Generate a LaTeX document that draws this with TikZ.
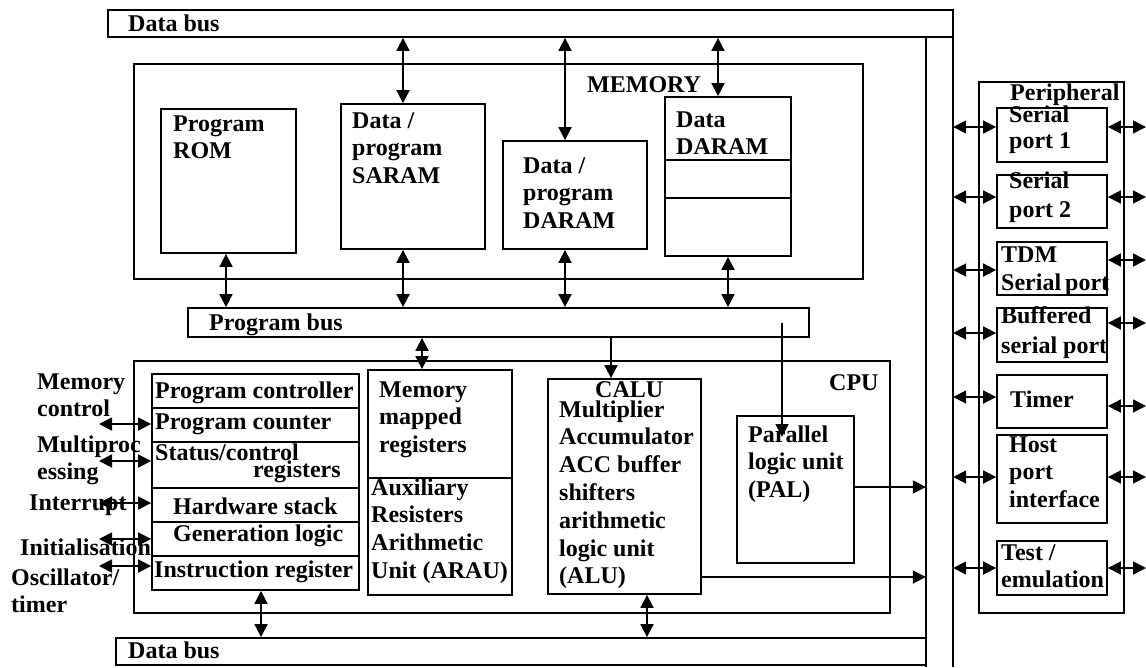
\documentclass[tikz,border=0pt]{standalone}
\usepackage{fontspec}
\setmainfont{Liberation Serif}
\usetikzlibrary{arrows.meta,fit}
\tikzset{
  box/.style={draw, line width=1.8pt, inner sep=0pt},
  rule/.style={line width=1.8pt},
  % multi-line labels are placed by the baseline of their last line
  lbl/.style={anchor=base west, inner sep=0pt, align=left,
    font=\fontsize{24}{27.8}\selectfont\bfseries},
  tip/.tip={Triangle[length=13pt,width=13pt]},
  dbl/.style={line width=1.8pt, tip-tip},
  one/.style={line width=1.8pt, -tip},
}
\begin{document}
\begin{tikzpicture}[x=1pt,y=-1pt]
\fill[white] (0,0) rectangle (1146,667);
\useasboundingbox (0,0) rectangle (1146,667);

% ---------- data bus (top bar, right riser, bottom bar) ----------
\node[box, fit={(108,10) (953,37)}] (dtop) {};
\node[box, fit={(116,638) (926,665)}] (dbot) {};
\node[inner sep=0pt, fit={(926,37) (953,667)}] (vbus) {};
\draw[rule] (vbus.north west) -- (vbus.south west)
            (vbus.north east) -- (vbus.south east);
\node[lbl] (ldtop) at (128,31) {Data bus};
\node[lbl] (ldbot) at (128,658) {Data bus};

% ---------- memory ----------
\node[box, fit={(134,64) (863,279)}] (mem) {};
\node[lbl] (lmem) at (587,92) {MEMORY};

\node[box, fit={(161,109) (296,253)}] (rom) {};
\node[lbl] (lrom) at (173,158.8) {Program\\ROM};

\node[box, fit={(341,104) (485,249)}] (saram) {};
\node[lbl] (lsaram) at (352,183.6) {Data /\\program\\SARAM};

\node[box, fit={(503,141) (647,249)}] (daram) {};
\node[lbl] (ldaram) at (523,228.6) {Data /\\program\\DARAM};

\node[box, fit={(665,97) (791,256)}] (ddaram) {};
\draw[rule] (ddaram.west |- 0,160) -- (ddaram.east |- 0,160)
            (ddaram.west |- 0,198) -- (ddaram.east |- 0,198);
\node[lbl] (lddaram) at (676,154.8) {Data\\DARAM};

% ---------- program bus ----------
\node[box, fit={(188,308) (809,337)}] (pbus) {};
\node[lbl] (lpbus) at (209,330) {Program bus};

% data bus <-> memory
\draw[dbl] (403,0 |- dtop.south) -- (403,0 |- saram.north);
\draw[dbl] (565,0 |- dtop.south) -- (565,0 |- daram.north);
\draw[dbl] (718,0 |- dtop.south) -- (718,0 |- ddaram.north);
% memory <-> program bus
\draw[dbl] (226,0 |- rom.south) -- (226,0 |- pbus.north);
\draw[dbl] (403,0 |- saram.south) -- (403,0 |- pbus.north);
\draw[dbl] (565,0 |- daram.south) -- (565,0 |- pbus.north);
\draw[dbl] (728,0 |- ddaram.south) -- (728,0 |- pbus.north);

% ---------- CPU ----------
\node[box, fit={(134,361) (890,613)}] (cpu) {};
\node[lbl] (lcpu) at (829,390) {CPU};

% program controller stack
\node[box, fit={(152,374) (359,590)}] (stack) {};
\foreach \yy in {408,442,488,522,556}
  \draw[rule] (stack.west |- 0,\yy) -- (stack.east |- 0,\yy);
\node[lbl] (s1) at (155,398) {Program controller};
\node[lbl] (s2) at (155,429) {Program counter};
\node[lbl] (s3) at (155,460) {Status/control};
\node[lbl] (s3b) at (253,477) {registers};
\node[lbl] (s4) at (173,514) {Hardware stack};
\node[lbl] (s5) at (173,541) {Generation logic};
\node[lbl] (s6) at (154,577) {Instruction register};

% external control lines
\node[lbl] (e1) at (37,416.8) {Memory\\control};
\node[lbl] (e2) at (37,479.8) {Multiproc\\essing};
\node[lbl] (e3) at (29,510) {Interrupt};
\node[lbl] (e4) at (20,555) {Initialisation};
\node[lbl] (e5) at (11,612.8) {Oscillator/\\timer};
\foreach \yy [count=\i] in {424,461,503,539,566} {
  \coordinate (ext\i) at (99,\yy);
  \draw[dbl] (ext\i) -- (ext\i -| stack.west);
}

% memory mapped registers / ARAU
\node[box, fit={(368,370) (512,595)}] (mmr) {};
\draw[rule] (mmr.west |- 0,478) -- (mmr.east |- 0,478);
\node[lbl] (lmmr) at (379,452.6) {Memory\\mapped\\registers};
\node[lbl] (laru) at (371,578.4) {Auxiliary\\Resisters\\Arithmetic\\Unit (ARAU)};

% CALU
\node[box, fit={(548,379) (701,594)}] (calu) {};
\node[lbl] (lcalu) at (595,397) {CALU};
\node[lbl] (lcalu2) at (559,583.8) {Multiplier\\Accumulator\\ACC buffer\\shifters\\arithmetic\\logic unit\\(ALU)};

% PAL
\node[box, fit={(737,416) (854,563)}] (pal) {};
\node[lbl] (lpal) at (748,497.6) {Parallel\\logic unit\\(PAL)};

% CPU connections
\draw[dbl] (422,0 |- pbus.south) -- (422,0 |- mmr.north);
\draw[one] (611,0 |- pbus.south) -- (611,0 |- calu.north);
\coordinate (paltip) at (782,437);
\draw[one] (paltip |- pbus.center) -- (paltip);
\draw[one] (pal.east |- 0,487) -- (vbus.west |- 0,487);
\draw[one] (calu.east |- 0,577) -- (vbus.west |- 0,577);
\draw[dbl] (261,0 |- stack.south) -- (261,0 |- dbot.north);
\draw[dbl] (647,0 |- calu.south) -- (647,0 |- dbot.north);

% ---------- peripherals ----------
\node[box, fit={(979,82) (1124,613)}] (periph) {};
\node[lbl] (lperiph) at (1010,100) {Peripheral};

\node[box, fit={(997,108) (1107,162)}] (sp1) {};
\node[lbl] at (1009,122) {Serial};
\node[lbl] at (1009,148) {port 1};
\node[box, fit={(997,175) (1107,228)}] (sp2) {};
\node[lbl] at (1009,188) {Serial};
\node[lbl] at (1009,217) {port 2};
\node[box, fit={(997,242) (1107,295)}] (tdm) {};
\node[lbl] at (1001,262) {TDM};
\node[lbl] at (1001,290) {Serial\hspace{-2pt} port};
\node[box, fit={(997,308) (1107,362)}] (bsp) {};
\node[lbl] at (1001,323) {Buffered};
\node[lbl] at (1001,353) {serial port};
\node[box, fit={(997,375) (1107,428)}] (tim) {};
\node[lbl] at (1010,407) {Timer};
\node[box, fit={(997,435) (1107,523)}] (hpi) {};
\node[lbl] at (1009,507.6) {Host\\port\\interface};
\node[box, fit={(997,541) (1107,595)}] (tst) {};
\node[lbl] at (1001,587.8) {Test /\\emulation};

% bus <-> peripherals and peripherals <-> outside
\foreach \n/\yl/\yr [count=\i] in {sp1/127/127, sp2/197/197, tdm/270/260,
    bsp/333/323, tim/397/406, hpi/477/477, tst/568/568} {
  \draw[dbl] (vbus.east |- 0,\yl) -- (\n.west |- 0,\yl);
  \coordinate (out\i) at (1146,\yr);
  \draw[dbl] (\n.east |- out\i) -- (out\i);
}
\end{tikzpicture}
\end{document}
